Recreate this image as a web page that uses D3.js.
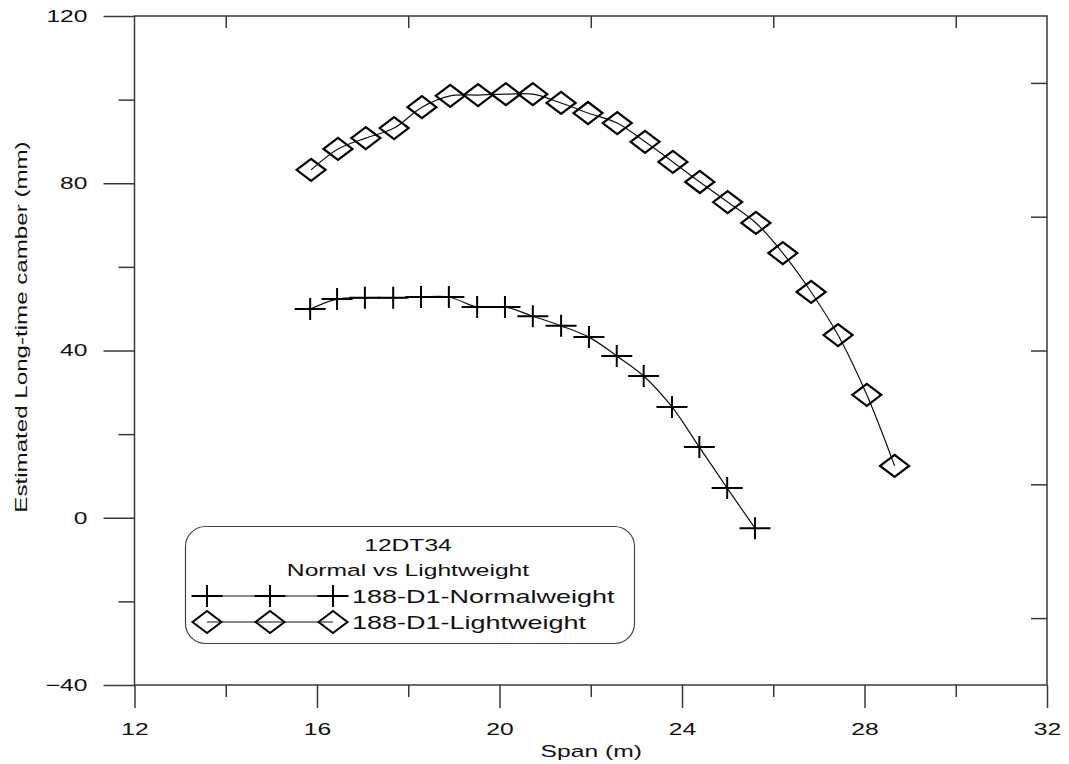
<!DOCTYPE html>
<html>
<head>
<meta charset="utf-8">
<script src="https://d3js.org/d3.v7.min.js"></script>
<style>
  body { margin: 0; background: #fff; }
  text { font-family: "Liberation Sans", Arial, sans-serif; fill: #111; }
</style>
</head>
<body>
<div id="chart"></div>
<script>
// data
var spanNormal = [15.85, 16.44, 17.05, 17.67, 18.28, 18.89, 19.51, 20.12, 20.73, 21.35, 21.96, 22.57, 23.16, 23.78, 24.38, 24.99, 25.60];
var camberNormal = [49.9, 52.3, 52.6, 52.6, 52.8, 52.8, 50.4, 50.4, 48.2, 45.9, 43.2, 38.7, 33.9, 26.5, 16.9, 7.1, -2.5];

var spanLight = [15.87, 16.46, 17.07, 17.69, 18.30, 18.92, 19.53, 20.14, 20.73, 21.35, 21.94, 22.58, 23.19, 23.80, 24.39, 25.00, 25.62, 26.21, 26.83, 27.42, 28.05, 28.66];
var camberLight = [83.2, 88.2, 90.8, 93.2, 98.2, 100.9, 101.1, 101.3, 101.3, 99.2, 96.8, 94.4, 89.9, 85.1, 80.3, 75.5, 70.5, 63.3, 54.0, 43.7, 29.4, 12.4];

var xMajor = [12, 16, 20, 24, 28, 32];
var xMinor = [14, 18, 22, 26, 30];
var yMajor = [-40, 0, 40, 80, 120];
var yMinor = [-20, 20, 60, 100];
var yRightTicks = [104, 72, 40, 8, -24];

var legendTitle = ["12DT34", "Normal vs Lightweight"];
var seriesNames = ["188-D1-Normalweight", "188-D1-Lightweight"];

// drawing area
var W = 1069, H = 764;
var pLeft = 134.5, pRight = 1047, pTop = 16, pBottom = 685;
var stretch = 1.45; // text in the reference is drawn wide
var axisColor = "#383838";

var svg = d3.select("#chart").append("svg")
    .attr("width", W)
    .attr("height", H);

var x = d3.scaleLinear().domain([12, 32]).range([pLeft, pRight]);
var y = d3.scaleLinear().domain([-40, 120]).range([pBottom, pTop]);

function styleAxis(g) {
    g.select(".domain").remove();
    g.selectAll(".tick line").attr("stroke", axisColor).attr("stroke-width", 1.5);
    g.selectAll(".tick text").style("font-size", "17px").attr("fill", "#111");
}

// frame
svg.append("rect")
    .attr("x", pLeft).attr("y", pTop)
    .attr("width", pRight - pLeft).attr("height", pBottom - pTop)
    .attr("fill", "none")
    .attr("stroke", axisColor)
    .attr("stroke-width", 1.5);

// bottom axis, major + minor
var gxMajor = svg.append("g")
    .attr("transform", `translate(0,${pBottom})`)
    .call(d3.axisBottom(x).tickValues(xMajor).tickSize(23).tickSizeOuter(0).tickPadding(15).tickFormat(d3.format("d")))
    .call(styleAxis);
gxMajor.selectAll(".tick text").attr("transform", `scale(${stretch},1)`);

svg.append("g")
    .attr("transform", `translate(0,${pBottom})`)
    .call(d3.axisBottom(x).tickValues(xMinor).tickSize(12).tickSizeOuter(0).tickFormat(""))
    .call(styleAxis);

// top axis ticks pointing in
svg.append("g")
    .attr("transform", `translate(0,${pTop})`)
    .call(d3.axisBottom(x).tickValues(xMinor).tickSize(12).tickSizeOuter(0).tickFormat(""))
    .call(styleAxis);

// left axis
var gyMajor = svg.append("g")
    .attr("transform", `translate(${pLeft},0)`)
    .call(d3.axisLeft(y).tickValues(yMajor).tickSize(31).tickSizeOuter(0).tickFormat(d3.format("d")))
    .call(styleAxis);
gyMajor.selectAll(".tick text")
    .attr("x", null)
    .attr("transform", `translate(-47,0) scale(${stretch},1)`);

svg.append("g")
    .attr("transform", `translate(${pLeft},0)`)
    .call(d3.axisLeft(y).tickValues(yMinor).tickSize(16).tickSizeOuter(0).tickFormat(""))
    .call(styleAxis);

// right axis ticks pointing in
svg.append("g")
    .attr("transform", `translate(${pRight},0)`)
    .call(d3.axisLeft(y).tickValues(yRightTicks).tickSize(16).tickSizeOuter(0).tickFormat(""))
    .call(styleAxis);

// axis titles
svg.append("text")
    .attr("transform", `translate(${(pLeft + pRight) / 2 + 0.5},757) scale(${stretch},1)`)
    .attr("text-anchor", "middle")
    .style("font-size", "17px")
    .text("Span (m)");

svg.append("text")
    .attr("transform", `translate(27,327) rotate(-90) scale(1.42,1)`)
    .attr("text-anchor", "middle")
    .style("font-size", "17px")
    .text("Estimated Long-time camber (mm)");

// markers
function plusPath(cx, cy) {
    return `M${cx - 15.5},${cy}H${cx + 15.5}M${cx},${cy - 11}V${cy + 11}`;
}
function diamondPath(cx, cy) {
    return `M${cx - 14.5},${cy}L${cx},${cy - 11}L${cx + 14.5},${cy}L${cx},${cy + 11}Z`;
}

var line = d3.line()
    .x(d => x(d[0]))
    .y(d => y(d[1]))
    .curve(d3.curveCatmullRom.alpha(0.5));

var normalData = d3.zip(spanNormal, camberNormal);
var lightData = d3.zip(spanLight, camberLight);

svg.append("path")
    .datum(normalData)
    .attr("d", line)
    .attr("fill", "none")
    .attr("stroke", "#111")
    .attr("stroke-width", 1.2);

svg.append("path")
    .datum(lightData)
    .attr("d", line)
    .attr("fill", "none")
    .attr("stroke", "#111")
    .attr("stroke-width", 1.2);

svg.selectAll(".plus")
    .data(normalData)
    .enter().append("path")
    .attr("class", "plus")
    .attr("d", d => plusPath(x(d[0]), y(d[1])))
    .attr("fill", "none")
    .attr("stroke", "#000")
    .attr("stroke-width", 2);

svg.selectAll(".diamond")
    .data(lightData)
    .enter().append("path")
    .attr("class", "diamond")
    .attr("d", d => diamondPath(x(d[0]), y(d[1])))
    .attr("fill", "none")
    .attr("stroke", "#000")
    .attr("stroke-width", 2.2);

// legend
var lg = svg.append("g");
lg.append("rect")
    .attr("x", 185.5).attr("y", 526.5)
    .attr("width", 449).attr("height", 117)
    .attr("rx", 20).attr("ry", 20)
    .attr("fill", "#fff")
    .attr("stroke", "#444")
    .attr("stroke-width", 1.2);

lg.selectAll(".title")
    .data(legendTitle)
    .enter().append("text")
    .attr("class", "title")
    .attr("transform", (d, i) => `translate(408,${551 + i * 25}) scale(${stretch},1)`)
    .attr("text-anchor", "middle")
    .style("font-size", "17px")
    .text(d => d);

var legX = [207, 270, 333];
seriesNames.forEach(function (name, i) {
    var ly = 596 + i * 26;
    lg.append("line")
        .attr("x1", legX[0]).attr("x2", legX[2])
        .attr("y1", ly).attr("y2", ly)
        .attr("stroke", "#111").attr("stroke-width", 1.2);
    lg.selectAll(".lm" + i)
        .data(legX)
        .enter().append("path")
        .attr("d", d => i === 0 ? plusPath(d, ly) : diamondPath(d, ly))
        .attr("fill", "none")
        .attr("stroke", "#000")
        .attr("stroke-width", 2);
    lg.append("text")
        .attr("transform", `translate(352,${ly + 6.5}) scale(1.5,1)`)
        .style("font-size", "18px")
        .text(name);
});
</script>
</body>
</html>
